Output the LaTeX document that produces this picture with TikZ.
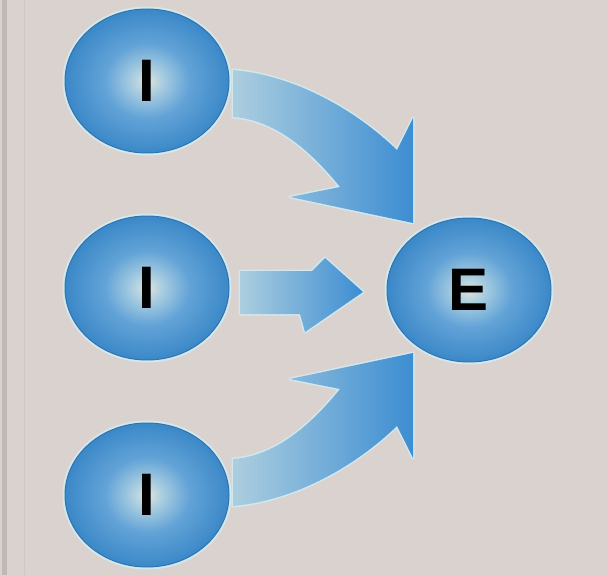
\documentclass[tikz,border=0pt]{standalone}
\usepackage{fontspec}
\setmainfont{Liberation Sans}
\usetikzlibrary{shapes.geometric}
\definecolor{paper}{HTML}{DAD2CE}
\definecolor{edgegray}{HTML}{C2B9B5}
\definecolor{edgeline}{HTML}{D0C7C3}
\definecolor{ballin}{HTML}{E0E3DA}
\definecolor{balllite}{HTML}{A6CBE0}
\definecolor{ballmid}{HTML}{62A3D7}
\definecolor{ballout}{HTML}{3B88C8}
\definecolor{ballrim}{HTML}{2F74AE}
\definecolor{halo}{HTML}{D3E8EE}
\definecolor{arrlight}{HTML}{ACCEDF}
\definecolor{arrdark}{HTML}{3C8DD2}
\pgfdeclareradialshading{ballshade}{\pgfpoint{0bp}{0bp}}{color(0bp)=(ballin); color(5bp)=(balllite); color(13bp)=(ballmid); color(25bp)=(ballout); color(50bp)=(ballout)}

\begin{document}
\begin{tikzpicture}[x=1pt,y=-1pt,
  ball/.style={ellipse,inner sep=0pt,outer sep=0pt,
               minimum width=164pt,minimum height=144pt,
               shading=ballshade,draw=ballrim,line width=1pt,
               preaction={draw=halo,line width=5pt},
               font=\fontsize{60}{60}\selectfont\bfseries},
  flow/.style={left color=arrlight,right color=arrdark,
               preaction={draw=halo,line width=3pt,line join=round}}
]
\fill[paper] (0,0) rectangle (608,575);
\useasboundingbox (0,0) rectangle (608,575);
% left margin rule
\fill[edgegray] (2,0) rectangle (7,575);
\draw[edgeline,line width=1pt] (24,0) -- (24,575);
% the three I's and the E
\foreach \n/\y in {1/81,2/288,3/495}{
  \node[ball] (i\n) at (147,\y) {I};
}
\node[ball] (e) at (469,290) {E};
% top arrow, bending down
\path[flow] ([shift={(4,-11)}]i1.east)
  .. controls +(57,5) and +(-47,-45) .. ([shift={(-72,-140)}]e.center)
  -- ([shift={(-56,-172)}]e.center)
  -- ([shift={(-56,-67)}]e.center)
  -- ([shift={(-179,-93)}]e.center)
  -- ([shift={(-129,-103)}]e.center)
  .. controls +(-30,-37) and +(42,3) .. ([shift={(4,36)}]i1.east)
  -- cycle;
% middle arrow
\path[flow] ([shift={(11,-17)}]i2.east)
  -- ([shift={(-157,-19)}]e.center)
  -- ([shift={(-144,-32)}]e.center)
  -- ([shift={(-106,2)}]e.center)
  -- ([shift={(-164,42)}]e.center)
  -- ([shift={(-169,24)}]e.center)
  -- ([shift={(11,26)}]i2.east)
  -- cycle;
% bottom arrow, bending up
\path[flow] ([shift={(4,11)}]i3.east)
  .. controls +(57,-5) and +(-47,45) .. ([shift={(-72,136)}]e.center)
  -- ([shift={(-56,168)}]e.center)
  -- ([shift={(-56,63)}]e.center)
  -- ([shift={(-179,89)}]e.center)
  -- ([shift={(-129,99)}]e.center)
  .. controls +(-30,37) and +(42,-3) .. ([shift={(4,-36)}]i3.east)
  -- cycle;
\end{tikzpicture}
\end{document}
